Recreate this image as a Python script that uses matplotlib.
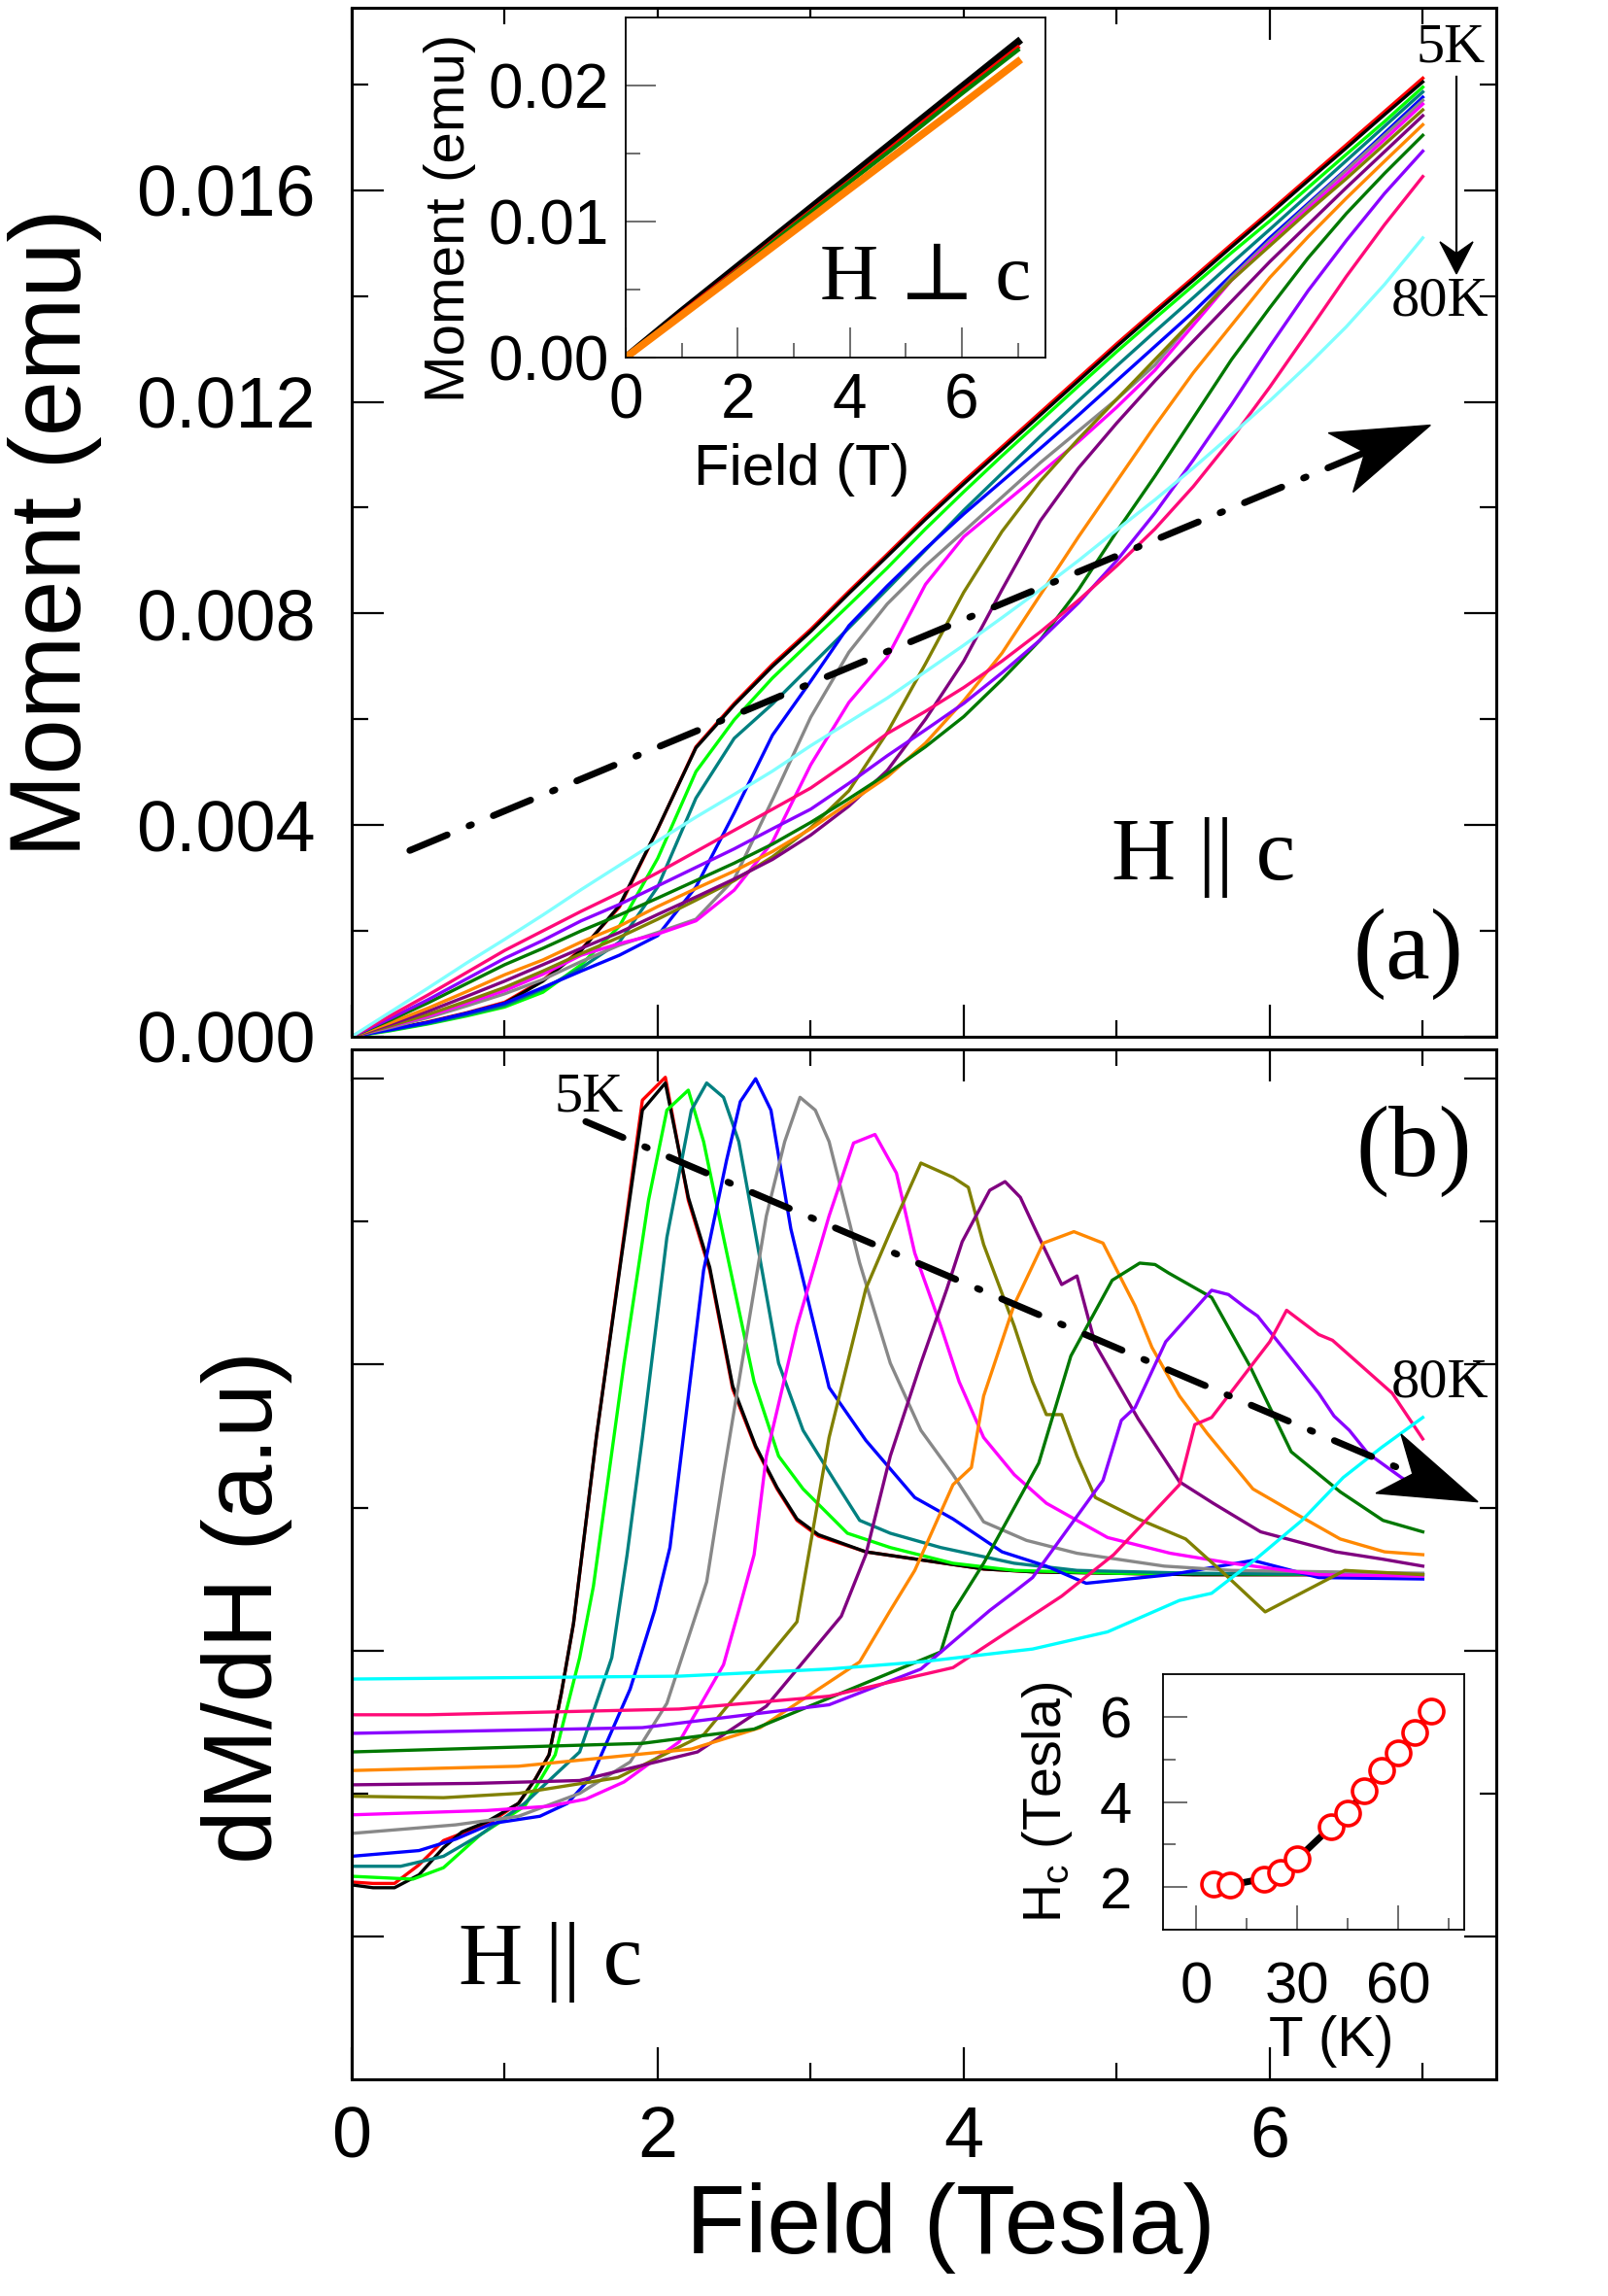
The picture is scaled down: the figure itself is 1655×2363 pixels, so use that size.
"""M(H) and dM/dH curves for H || c, with H-perp-c and Hc(T) insets."""

import numpy as np
import matplotlib
matplotlib.use("Agg")
import matplotlib.pyplot as plt
from matplotlib.lines import Line2D
from matplotlib.patches import Polygon
from matplotlib.transforms import IdentityTransform
from matplotlib.ticker import FixedLocator, FormatStrFormatter, NullFormatter

plt.rcParams["font.family"] = ["Liberation Sans", "DejaVu Sans"]
plt.rcParams["mathtext.default"] = "regular"
SERIF = ["Liberation Serif", "DejaVu Serif"]

# -- Panel (a): moment vs field, H || c (values in 1e-3 emu) --
H_A = [0.0, 0.25, 0.5, 0.75, 1.0, 1.25, 1.5, 1.75, 2.0, 2.25, 2.5, 2.75, 3.0, 3.25,
       3.5, 3.75, 4.0, 4.25, 4.5, 4.75, 5.0, 5.25, 5.5, 5.75, 6.0, 6.25, 6.5, 6.75, 7.0]
M_5K = [0, .13, .28, .45, .65, 1.07, 1.65, 2.45, 3.92, 5.48, 6.3, 7.04, 7.7, 8.42,
        9.12, 9.83, 10.5, 11.15, 11.8, 12.45, 13.1, 13.73, 14.35, 14.98, 15.6, 16.23, 16.86, 17.49, 18.12]
M_10K = [0, .13, .27, .44, .63, 1.05, 1.63, 2.48, 3.93, 5.46, 6.27, 7.0, 7.66, 8.38,
         9.08, 9.78, 10.45, 11.1, 11.75, 12.4, 13.05, 13.68, 14.3, 14.93, 15.55, 16.18, 16.8, 17.43, 18.05]
M_15K = [0, .11, .24, .39, .56, .84, 1.36, 2.09, 3.37, 5.01, 5.99, 6.78, 7.47, 8.16,
         8.86, 9.6, 10.3, 10.98, 11.64, 12.3, 12.95, 13.58, 14.2, 14.82, 15.42, 16.05, 16.68, 17.3, 17.95]
M_20K = [0, .12, .25, .41, .59, .9, 1.30, 1.79, 2.83, 4.51, 5.64, 6.29, 7.01, 7.73,
         8.46, 9.2, 9.95, 10.65, 11.35, 12.02, 12.68, 13.33, 13.97, 14.62, 15.26, 15.91, 16.56, 17.21, 17.86]
M_25K = [0, .13, .27, .44, .63, .93, 1.24, 1.54, 1.91, 2.83, 4.23, 5.70, 6.72, 7.77,
         8.52, 9.22, 9.88, 10.5, 11.12, 11.75, 12.4, 13.05, 13.7, 14.4, 15.1, 15.75, 16.4, 17.08, 17.76]
M_30K = [0, .17, .36, .58, .81, 1.08, 1.42, 1.73, 1.97, 2.22, 2.98, 4.48, 6.04, 7.27,
         8.18, 8.9, 9.55, 10.2, 10.85, 11.45, 12.05, 12.7, 13.55, 14.35, 15.05, 15.72, 16.38, 17.04, 17.70]
M_40K = [0, .19, .39, .63, .87, 1.18, 1.54, 1.76, 1.94, 2.19, 2.77, 3.68, 5.14, 6.32,
         7.17, 8.55, 9.45, 10.05, 10.65, 11.25, 11.9, 12.6, 13.45, 14.3, 15.0, 15.65, 16.3, 16.96, 17.63]
M_45K = [0, .2, .42, .67, .93, 1.24, 1.57, 1.88, 2.22, 2.58, 2.95, 3.4, 3.95, 4.65,
         5.75, 7.05, 8.4, 9.55, 10.5, 11.3, 12.05, 12.8, 13.55, 14.3, 14.95, 15.6, 16.22, 16.87, 17.52]
M_50K = [0, .23, .48, .76, 1.05, 1.36, 1.67, 1.97, 2.31, 2.64, 2.98, 3.35, 3.81, 4.36,
         5.03, 6.0, 7.1, 8.45, 9.75, 10.75, 11.6, 12.4, 13.15, 13.9, 14.65, 15.35, 16.05, 16.73, 17.41]
M_55K = [0, .26, .54, .85, 1.17, 1.45, 1.79, 2.09, 2.46, 2.80, 3.13, 3.50, 3.93, 4.42,
         4.91, 5.55, 6.35, 7.25, 8.35, 9.45, 10.5, 11.55, 12.55, 13.45, 14.35, 15.12, 15.85, 16.55, 17.24]
M_60K = [0, .31, .64, 1.0, 1.36, 1.67, 2.0, 2.3, 2.62, 2.95, 3.28, 3.64, 4.05, 4.5,
         4.97, 5.48, 6.05, 6.75, 7.5, 8.45, 9.55, 10.6, 11.7, 12.8, 13.78, 14.72, 15.56, 16.32, 17.04]
M_65K = [0, .34, .7, 1.09, 1.48, 1.82, 2.19, 2.5, 2.85, 3.2, 3.55, 3.93, 4.30, 4.79,
         5.31, 5.8, 6.3, 6.88, 7.5, 8.2, 9.0, 9.9, 10.9, 11.95, 13.05, 14.1, 15.05, 15.94, 16.74]
M_70K = [0, .39, .79, 1.21, 1.63, 2.0, 2.37, 2.72, 3.1, 3.5, 3.9, 4.3, 4.7, 5.2,
         5.73, 6.15, 6.6, 7.1, 7.65, 8.25, 8.9, 9.6, 10.4, 11.3, 12.28, 13.32, 14.37, 15.35, 16.26]
M_80K = [0, .46, .92, 1.39, 1.84, 2.3, 2.78, 3.24, 3.7, 4.15, 4.58, 5.02, 5.5, 5.95,
         6.4, 6.9, 7.4, 7.92, 8.45, 9.0, 9.58, 10.15, 10.75, 11.38, 12.02, 12.7, 13.42, 14.22, 15.1]

# -- Panel (b): dM/dH (arbitrary units), one field list per curve --
HB_5K = [0.0, 0.14, 0.28, 0.44, 0.60, 0.72, 0.88, 1.09, 1.20, 1.29, 1.37, 1.45, 1.60, 1.76, 1.90,
         2.05, 2.20, 2.34, 2.49, 2.64, 2.78, 2.91, 3.05, 3.36, 3.68, 4.13, 4.45, 5.5, 7.0]
DB_5K = [1.38, 1.37, 1.37, 1.50, 1.67, 1.72, 1.78, 1.93, 2.10, 2.27, 2.70, 3.19, 4.50, 5.75, 6.85,
         7.01, 6.15, 5.66, 4.83, 4.42, 4.13, 3.91, 3.80, 3.69, 3.64, 3.57, 3.55, 3.53, 3.53]
HB_10K = HB_5K
DB_10K = [1.36, 1.34, 1.34, 1.43, 1.62, 1.73, 1.80, 1.93, 2.10, 2.27, 2.70, 3.19, 4.50, 5.73, 6.78,
          6.97, 6.17, 5.68, 4.85, 4.43, 4.14, 3.92, 3.81, 3.69, 3.64, 3.57, 3.55, 3.53, 3.53]
HB_15K = [0, 0.20, 0.40, 0.60, 0.84, 1.13, 1.33, 1.49, 1.58, 1.78, 1.94, 2.06, 2.20, 2.30, 2.43,
          2.63, 2.79, 2.95, 3.24, 3.52, 3.93, 4.33, 5.0, 7.0]
DB_15K = [1.42, 1.41, 1.40, 1.48, 1.71, 1.91, 2.27, 2.95, 3.45, 5.01, 6.15, 6.78, 6.92, 6.56, 5.89,
          4.88, 4.36, 4.13, 3.82, 3.72, 3.61, 3.56, 3.54, 3.53]
HB_20K = [0, 0.32, 0.60, 0.84, 1.13, 1.49, 1.70, 1.80, 1.90, 2.06, 2.22, 2.32, 2.43, 2.53, 2.63,
          2.79, 2.95, 3.16, 3.32, 3.52, 3.85, 4.33, 4.74, 5.5, 7.0]
DB_20K = [1.49, 1.49, 1.56, 1.71, 1.93, 2.29, 2.95, 3.67, 4.49, 5.89, 6.78, 6.97, 6.87, 6.56, 5.97,
          5.01, 4.54, 4.18, 3.91, 3.82, 3.72, 3.61, 3.56, 3.54, 3.53]
HB_25K = [0, 0.44, 0.68, 0.92, 1.23, 1.41, 1.57, 1.82, 1.98, 2.08, 2.30, 2.45, 2.54, 2.64, 2.74,
          2.87, 3.12, 3.36, 3.68, 3.93, 4.25, 4.54, 4.80, 5.35, 5.89, 6.32, 7.0]
DB_25K = [1.56, 1.60, 1.68, 1.79, 1.84, 1.93, 2.12, 2.73, 3.28, 3.72, 5.66, 6.43, 6.84, 7.00, 6.78,
          5.95, 4.84, 4.47, 4.07, 3.92, 3.69, 3.59, 3.47, 3.53, 3.63, 3.51, 3.50]
HB_30K = [0, 0.68, 1.09, 1.49, 1.82, 2.06, 2.32, 2.43, 2.71, 2.83, 2.93, 3.03, 3.12, 3.32, 3.52,
          3.72, 3.93, 4.13, 4.41, 4.74, 5.31, 5.75, 7.0]
DB_30K = [1.72, 1.78, 1.84, 2.00, 2.22, 2.63, 3.48, 4.23, 6.04, 6.56, 6.87, 6.78, 6.56, 5.71, 5.01,
          4.54, 4.23, 3.90, 3.77, 3.68, 3.59, 3.56, 3.54]
HB_40K = [0, 0.88, 1.29, 1.53, 1.78, 2.14, 2.43, 2.53, 2.63, 2.71, 2.91, 3.12, 3.28, 3.42, 3.56,
          3.68, 3.85, 3.97, 4.13, 4.33, 4.54, 4.94, 5.35, 5.75, 6.32, 7.0]
DB_40K = [1.85, 1.88, 1.91, 1.96, 2.08, 2.36, 2.90, 3.28, 3.67, 4.36, 5.27, 6.04, 6.55, 6.61, 6.34,
          5.78, 5.27, 4.88, 4.49, 4.23, 4.03, 3.79, 3.68, 3.61, 3.53, 3.52]
HB_45K = [0, 0.60, 1.09, 1.74, 2.30, 2.91, 3.12, 3.36, 3.52, 3.72, 3.93, 4.03, 4.13, 4.33, 4.45,
          4.54, 4.64, 4.74, 4.86, 5.14, 5.45, 5.71, 5.97, 6.49, 7.0]
DB_45K = [1.98, 1.97, 2.00, 2.11, 2.41, 3.20, 4.49, 5.53, 5.93, 6.41, 6.31, 6.24, 5.84, 5.27, 4.88,
          4.65, 4.65, 4.36, 4.07, 3.92, 3.78, 3.53, 3.27, 3.56, 3.53]
HB_50K = [0, 0.8, 1.49, 2.26, 2.71, 3.20, 3.36, 3.52, 3.72, 3.89, 3.99, 4.17, 4.27, 4.37, 4.47,
          4.64, 4.74, 4.86, 5.14, 5.41, 5.63, 5.94, 6.43, 6.73, 7.0]
DB_50K = [2.06, 2.07, 2.09, 2.29, 2.61, 3.24, 3.67, 4.36, 5.01, 5.53, 5.86, 6.22, 6.28, 6.17, 5.94,
          5.56, 5.62, 5.14, 4.62, 4.18, 4.03, 3.83, 3.69, 3.64, 3.59]
HB_55K = [0, 1.09, 2.22, 2.67, 3.32, 3.52, 3.68, 3.93, 4.05, 4.13, 4.33, 4.52, 4.72, 4.91, 5.12,
          5.23, 5.41, 5.59, 5.89, 6.18, 6.46, 6.75, 7.0]
DB_55K = [2.16, 2.19, 2.31, 2.46, 2.92, 3.28, 3.56, 4.16, 4.28, 4.78, 5.42, 5.85, 5.93, 5.85, 5.41,
          5.12, 4.78, 4.52, 4.13, 3.95, 3.78, 3.69, 3.67]
HB_60K = [0, 1.90, 2.63, 3.85, 3.93, 4.13, 4.49, 4.70, 4.97, 5.15, 5.25, 5.34, 5.62, 5.87, 6.14,
          6.46, 6.74, 7.0]
DB_60K = [2.29, 2.35, 2.45, 2.99, 3.27, 3.61, 4.31, 5.06, 5.59, 5.71, 5.70, 5.64, 5.47, 4.99, 4.39,
          4.11, 3.91, 3.83]
HB_65K = [0, 1.90, 3.12, 3.72, 4.17, 4.33, 4.45, 4.91, 5.03, 5.12, 5.32, 5.62, 5.73, 5.84, 5.92,
          6.18, 6.32, 6.42, 6.52, 6.64, 6.86, 7.0]
DB_65K = [2.42, 2.46, 2.62, 2.87, 3.28, 3.41, 3.51, 4.19, 4.61, 4.70, 5.16, 5.52, 5.49, 5.40, 5.34,
          4.99, 4.80, 4.64, 4.54, 4.38, 4.21, 4.12]
HB_70K = [0, 0.5, 2.14, 3.12, 3.93, 4.64, 4.98, 5.41, 5.51, 5.62, 6.00, 6.11, 6.32, 6.41, 6.80, 7.0]
DB_70K = [2.55, 2.55, 2.59, 2.68, 2.88, 3.38, 3.67, 4.16, 4.58, 4.63, 5.16, 5.38, 5.21, 5.17, 4.80, 4.48]
HB_80K = [0, 2.14, 3.12, 3.72, 4.45, 4.94, 5.41, 5.62, 5.91, 6.21, 6.48, 6.73, 7.0]
DB_80K = [2.80, 2.82, 2.87, 2.92, 3.01, 3.13, 3.35, 3.40, 3.64, 3.91, 4.21, 4.42, 4.63]

# -- Inset (a): H perpendicular to c --
H_PERP = [0, 1, 2, 3, 4, 5, 6, 7]
M_PERP_BLACK = [0, 0.0034, 0.0067, 0.0100, 0.0133, 0.0166, 0.0199, 0.0232]
M_PERP_RED = [0, 0.0033, 0.0065, 0.0098, 0.0130, 0.0163, 0.0196, 0.0228]
M_PERP_GREEN = [0, 0.0032, 0.0064, 0.0097, 0.0129, 0.0161, 0.0194, 0.0226]
M_PERP_ORANGE = [0, 0.0031, 0.0062, 0.0093, 0.0124, 0.0155, 0.0186, 0.02175]

# -- Inset (b): critical field vs temperature --
T_HC = [5, 10, 20, 25, 30, 40, 45, 50, 55, 60, 65, 70]
HC = [2.07, 2.05, 2.20, 2.34, 2.66, 3.41, 3.74, 4.26, 4.74, 5.15, 5.63, 6.14]

COLORS = ["#ff0000", "#000000", "#00ff00", "#008080", "#0000ff", "#888888", "#ff00ff",
          "#808000", "#800080", "#ff8800", "#007800", "#8a00ff", "#ff0a78", "#00ffff"]
COLORS_A = COLORS[:-1] + ["#80ffff"]

M_CURVES = [M_5K, M_10K, M_15K, M_20K, M_25K, M_30K, M_40K, M_45K, M_50K, M_55K,
            M_60K, M_65K, M_70K, M_80K]
B_CURVES = [(HB_5K, DB_5K), (HB_10K, DB_10K), (HB_15K, DB_15K), (HB_20K, DB_20K),
            (HB_25K, DB_25K), (HB_30K, DB_30K), (HB_40K, DB_40K), (HB_45K, DB_45K),
            (HB_50K, DB_50K), (HB_55K, DB_55K), (HB_60K, DB_60K), (HB_65K, DB_65K),
            (HB_70K, DB_70K), (HB_80K, DB_80K)]

ARROW_A = ((0.38, 0.00352), (7.05, 0.01156))
ARROW_B = ((1.53, 6.70), (7.36, 4.04))


def arrow(ax, start, tip, lw, ls, head_len, half_w, notch):
    """Shaft plus notched, filled head; head sizes in pixels."""
    p0 = ax.transData.transform(start)
    p1 = ax.transData.transform(tip)
    u = (p1 - p0) / np.hypot(*(p1 - p0))
    n = np.array([-u[1], u[0]])
    pn = p1 - notch * u
    ax.add_artist(Line2D([p0[0], pn[0]], [p0[1], pn[1]], color="k", lw=lw, ls=ls,
                         dash_capstyle="round", transform=IdentityTransform(),
                         clip_on=False, zorder=6))
    verts = [p1, p1 - head_len * u + half_w * n, pn, p1 - head_len * u - half_w * n]
    ax.add_patch(Polygon(verts, closed=True, facecolor="k", edgecolor="k",
                         transform=IdentityTransform(), clip_on=False, zorder=7))


def style_main(ax):
    for s in ax.spines.values():
        s.set_linewidth(2.2)
    ax.tick_params(which="both", direction="in", top=True, right=True, width=1.6)
    ax.tick_params(which="major", length=24)
    ax.tick_params(which="minor", length=12)


def style_inset(ax, major_len, minor_len):
    for s in ax.spines.values():
        s.set_linewidth(1.3)
    ax.tick_params(which="both", direction="in", top=False, right=False,
                   width=1.2, color="#555555")
    ax.tick_params(which="major", length=major_len)
    ax.tick_params(which="minor", length=minor_len)


fig = plt.figure(figsize=(16.55, 23.63), dpi=100)

# ---- (a) ----
ax_a = fig.add_axes([0.2187, 0.5485, 0.7118, 0.4481])
for color, m in zip(COLORS_A, M_CURVES):
    ax_a.plot(H_A, np.array(m) * 1e-3, color=color, lw=2.4)
ax_a.set_xlim(0, 7.48)
ax_a.set_ylim(0, 0.01945)
ax_a.xaxis.set_major_locator(FixedLocator([0, 2, 4, 6]))
ax_a.xaxis.set_minor_locator(FixedLocator([1, 3, 5, 7]))
ax_a.xaxis.set_major_formatter(NullFormatter())
ax_a.yaxis.set_major_locator(FixedLocator([0, 0.004, 0.008, 0.012, 0.016]))
ax_a.yaxis.set_minor_locator(FixedLocator([0.002, 0.006, 0.010, 0.014, 0.018]))
ax_a.yaxis.set_major_formatter(FormatStrFormatter("%.3f"))
style_main(ax_a)
ax_a.tick_params(axis="y", labelsize=53, pad=27)
ax_a.set_ylabel("Moment (emu)", fontsize=74)
ax_a.yaxis.set_label_coords(-0.218, 0.49)

ax_a.text(0.744, 0.174, "H || c", transform=ax_a.transAxes, fontsize=66,
          family=SERIF, ha="center", va="center")
ax_a.text(0.923, 0.080, "(a)", transform=ax_a.transAxes, fontsize=74,
          family=SERIF, ha="center", va="center")
ax_a.text(0.960, 0.961, "5K", transform=ax_a.transAxes, fontsize=42,
          family=SERIF, ha="center", va="center")
ax_a.text(0.951, 0.714, "80K", transform=ax_a.transAxes, fontsize=42,
          family=SERIF, ha="center", va="center")

# ---- (b) ----
ax_b = fig.add_axes([0.2187, 0.0944, 0.7118, 0.4486])
for color, (h, d) in zip(COLORS, B_CURVES):
    ax_b.plot(h, d, color=color, lw=2.4)
ax_b.set_xlim(0, 7.48)
ax_b.set_ylim(0, 7.206)
ax_b.xaxis.set_major_locator(FixedLocator([0, 2, 4, 6]))
ax_b.xaxis.set_minor_locator(FixedLocator([1, 3, 5, 7]))
ax_b.yaxis.set_major_locator(FixedLocator([1, 3, 5, 7]))
ax_b.yaxis.set_minor_locator(FixedLocator([2, 4, 6]))
ax_b.yaxis.set_major_formatter(NullFormatter())
style_main(ax_b)
ax_b.tick_params(axis="x", labelsize=53, pad=19)
ax_b.set_xlabel("Field (Tesla)", fontsize=72)
ax_b.xaxis.set_label_coords(0.523, -0.100)
ax_b.set_ylabel("dM/dH (a.u)", fontsize=72)
ax_b.yaxis.set_label_coords(-0.052, 0.458)

ax_b.text(0.928, 0.901, "(b)", transform=ax_b.transAxes, fontsize=74,
          family=SERIF, ha="center", va="center")
ax_b.text(0.174, 0.114, "H || c", transform=ax_b.transAxes, fontsize=66,
          family=SERIF, ha="center", va="center")
ax_b.text(0.207, 0.953, "5K", transform=ax_b.transAxes, fontsize=42,
          family=SERIF, ha="center", va="center")
ax_b.text(0.951, 0.676, "80K", transform=ax_b.transAxes, fontsize=42,
          family=SERIF, ha="center", va="center")

# ---- inset (a): H perp c ----
ins_a = fig.add_axes([0.3891, 0.8443, 0.2610, 0.1481])
ins_a.plot(H_PERP, M_PERP_BLACK, color="k", lw=5.5)
ins_a.plot(H_PERP, M_PERP_RED, color="#ff0000", lw=3)
ins_a.plot(H_PERP, M_PERP_GREEN, color="#008000", lw=3)
ins_a.plot(H_PERP, M_PERP_ORANGE, color="#ff8000", lw=5.5)
ins_a.set_xlim(0, 7.49)
ins_a.set_ylim(0, 0.025)
ins_a.xaxis.set_major_locator(FixedLocator([0, 2, 4, 6]))
ins_a.xaxis.set_minor_locator(FixedLocator([1, 3, 5, 7]))
ins_a.yaxis.set_major_locator(FixedLocator([0, 0.01, 0.02]))
ins_a.yaxis.set_minor_locator(FixedLocator([0.005, 0.015]))
ins_a.yaxis.set_major_formatter(FormatStrFormatter("%.2f"))
style_inset(ins_a, 22, 11)
ins_a.tick_params(labelsize=46)
ins_a.tick_params(axis="y", pad=12)
ins_a.tick_params(axis="x", pad=11)
ins_a.set_ylabel("Moment (emu)", fontsize=42)
ins_a.yaxis.set_label_coords(-0.356, 0.41)
ins_a.set_xlabel("Field (T)", fontsize=43)
ins_a.xaxis.set_label_coords(0.42, -0.253)
ins_a.text(0.714, 0.229, "H \u22a5 c", transform=ins_a.transAxes, fontsize=60,
           family=SERIF, ha="center", va="center")

# ---- inset (b): Hc(T) ----
ins_b = fig.add_axes([0.7233, 0.1595, 0.1873, 0.1113])
ins_b.plot(T_HC, HC, color="k", lw=5, zorder=2)
ins_b.plot(T_HC, HC, ls="none", marker="o", ms=18, mfc="white", mec="#ff0000",
           mew=2.6, zorder=3)
ins_b.set_xlim(-9.9, 79.7)
ins_b.set_ylim(1.0, 7.0)
ins_b.xaxis.set_major_locator(FixedLocator([0, 30, 60]))
ins_b.xaxis.set_minor_locator(FixedLocator([15, 45, 75]))
ins_b.yaxis.set_major_locator(FixedLocator([2, 4, 6]))
ins_b.yaxis.set_minor_locator(FixedLocator([3, 5]))
style_inset(ins_b, 18, 9)
ins_b.tick_params(labelsize=43, pad=23)
ins_b.set_ylabel("H$_c$ (Tesla)", fontsize=40)
ins_b.yaxis.set_label_coords(-0.293, 0.50)
ins_b.set_xlabel("T (K)", fontsize=42)
ins_b.xaxis.set_label_coords(0.56, -0.333)

# ---- arrows ----
dashdot = (0, (6, 3.5, 0.4, 3.5))
arrow(ax_a, ARROW_A[0], ARROW_A[1], 5, dashdot, 100, 33, 73)
arrow(ax_b, ARROW_B[0], ARROW_B[1], 5, dashdot, 100, 33, 73)
arrow(ax_a, (7.22, 0.01814), (7.22, 0.01442), 1.6, "-", 33, 17, 21)

fig.savefig("out.png", dpi=100)
print("Saved out.png")
